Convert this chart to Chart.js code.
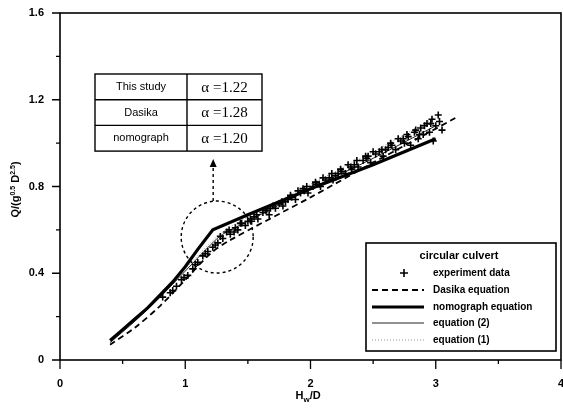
<!DOCTYPE html>
<html>
<head>
<meta charset="utf-8">
<script src="https://cdn.jsdelivr.net/npm/chart.js@4/dist/chart.umd.min.js"></script>
<style>
  html, body { margin: 0; padding: 0; background: #fff; }
  #wrap { width: 563px; height: 410px; position: relative; }
</style>
</head>
<body>
<div id="wrap"><canvas id="chart"></canvas></div>
<script>
/* ===== DATA ===== */
const xTicks = [0, 1, 2, 3, 4];
const yTicks = [0, 0.4, 0.8, 1.2, 1.6];

const expX = [0.82,0.88,0.93,0.97,1.02,1.06,1.10,1.14,1.18,1.22,1.26,1.30,1.33,1.36,1.40,1.42,1.45,1.48,1.52,1.55,1.58,1.62,1.65,1.68,1.72,1.75,1.78,1.82,1.85,1.88,1.92,1.95,1.98,2.02,2.05,2.08,2.12,2.15,2.18,2.22,2.25,2.28,2.32,2.35,2.38,2.42,2.45,2.48,2.52,2.55,2.58,2.62,2.65,2.68,2.72,2.75,2.78,2.80,2.83,2.86,2.88,2.90,2.93,2.95,2.97,3.00,3.02,2.98,3.05,
  1.28,1.35,1.44,1.50,1.57,1.64,1.70,1.77,1.84,1.90,1.97,2.04,2.10,2.17,2.24,2.30,2.37,2.44,2.50,2.57,2.64,2.70,2.77,2.84,2.91,2.96,3.03,2.87,2.74,2.60,2.46,2.33,2.20,2.07,1.94,1.80,1.67,1.53,1.39,1.24,1.16,1.08,0.99,0.90];
const expY = [0.29,0.31,0.34,0.37,0.39,0.42,0.45,0.48,0.50,0.52,0.54,0.56,0.59,0.58,0.61,0.60,0.63,0.62,0.65,0.66,0.65,0.68,0.69,0.70,0.70,0.72,0.71,0.74,0.75,0.74,0.77,0.78,0.77,0.80,0.81,0.80,0.83,0.84,0.83,0.86,0.87,0.86,0.89,0.90,0.89,0.92,0.93,0.91,0.95,0.96,0.94,0.98,0.99,0.97,1.01,1.00,1.03,0.99,1.05,1.02,1.07,1.04,1.09,1.05,1.11,1.08,1.13,1.01,1.06,
  0.57,0.60,0.63,0.64,0.67,0.69,0.71,0.73,0.76,0.78,0.80,0.82,0.84,0.86,0.88,0.90,0.92,0.94,0.96,0.97,1.00,1.02,1.04,1.06,1.08,1.09,1.10,1.04,1.02,0.97,0.94,0.88,0.85,0.81,0.79,0.73,0.67,0.64,0.59,0.53,0.49,0.44,0.38,0.32];

const dasikaX = [0.4, 0.6, 0.8, 1.0, 1.2, 1.35, 2.0, 2.5, 3.17];
const dasikaY = [0.07, 0.15, 0.25, 0.37, 0.49, 0.55, 0.75, 0.91, 1.12];

const nomoX = [0.4, 0.5, 0.6, 0.7, 0.8, 0.9, 1.0, 1.1, 1.22, 1.5, 2.0, 2.5, 3.0];
const nomoY = [0.09, 0.14, 0.19, 0.24, 0.30, 0.36, 0.43, 0.51, 0.60, 0.67, 0.79, 0.90, 1.02];

const eq2X = [0.4, 0.6, 0.8, 1.0, 1.2, 1.3, 1.5, 2.0, 2.5, 3.0];
const eq2Y = [0.08, 0.18, 0.29, 0.41, 0.53, 0.58, 0.64, 0.79, 0.93, 1.08];

const eq1X = [0.4, 0.6, 0.8, 1.0, 1.2, 1.3, 1.5, 2.0, 2.5, 3.0];
const eq1Y = [0.085, 0.19, 0.30, 0.42, 0.54, 0.59, 0.66, 0.81, 0.96, 1.12];

const tableRows = [['This study', 'α =1.22'], ['Dasika', 'α =1.28'], ['nomograph', 'α =1.20']];
const legendTitle = 'circular culvert';
const legendLabels = ['experiment data', 'Dasika equation', 'nomograph equation', 'equation (2)', 'equation (1)'];

const pts = (xs, ys) => xs.map((x, i) => ({ x: x, y: ys[i] }));
const FONT = 'Arial, "Liberation Sans", sans-serif';

/* ===== PLUGIN : cadre, ticks, titres, tableau, légende ===== */
const decor = {
  id: 'decor',
  afterDraw(chart) {
    const ctx = chart.ctx, a = chart.chartArea;
    const sx = chart.scales.x, sy = chart.scales.y;
    ctx.save();
    ctx.strokeStyle = '#000';
    ctx.lineWidth = 1.6;
    ctx.strokeRect(a.left, a.top, a.right - a.left, a.bottom - a.top);

    // ticks (majeurs + mineurs)
    ctx.lineWidth = 1.3;
    ctx.beginPath();
    for (let v = 0; v <= 4.001; v += 0.5) {
      const px = sx.getPixelForValue(v);
      const len = Math.abs(v - Math.round(v)) < 0.01 ? 9 : 4;
      ctx.moveTo(px, a.bottom); ctx.lineTo(px, a.bottom + len);
    }
    for (let v = 0; v <= 1.601; v += 0.2) {
      const py = sy.getPixelForValue(v);
      const major = Math.abs(v / 0.4 - Math.round(v / 0.4)) < 0.01;
      ctx.moveTo(a.left, py); ctx.lineTo(a.left - (major ? 8 : 4), py);
    }
    ctx.stroke();

    // titre axe x : H_w/D
    ctx.fillStyle = '#000';
    ctx.font = 'bold 11px ' + FONT;
    ctx.textBaseline = 'alphabetic';
    const tx = (a.left + a.right) / 2 - 15, ty = 399;
    ctx.textAlign = 'left';
    ctx.fillText('H', tx, ty);
    let w = ctx.measureText('H').width;
    ctx.font = 'bold 8px ' + FONT;
    ctx.fillText('w', tx + w, ty + 3);
    w += ctx.measureText('w').width;
    ctx.font = 'bold 11px ' + FONT;
    ctx.fillText('/D', tx + w, ty);

    // titre axe y : Q/(g^0.5 D^2.5)
    ctx.save();
    ctx.translate(15, (a.top + a.bottom) / 2 + 3);
    ctx.rotate(-Math.PI / 2);
    const parts = [['Q/(g', 0, 11], ['0.5', -4, 7], [' D', 0, 11], ['2.5', -4, 7], [')', 0, 11]];
    let total = 0;
    parts.forEach(p => { ctx.font = 'bold ' + p[2] + 'px ' + FONT; total += ctx.measureText(p[0]).width; });
    let cx = -total / 2;
    parts.forEach(p => {
      ctx.font = 'bold ' + p[2] + 'px ' + FONT;
      ctx.fillText(p[0], cx, 4 + p[1]);
      cx += ctx.measureText(p[0]).width;
    });
    ctx.restore();

    // cercle pointillé + flèche
    const ccx = sx.getPixelForValue(1.255), ccy = sy.getPixelForValue(0.567);
    ctx.setLineDash([3, 3]);
    ctx.lineWidth = 1.4;
    ctx.beginPath();
    ctx.arc(ccx, ccy, 36, 0, Math.PI * 2);
    ctx.stroke();
    const axx = ccx - 4;
    ctx.beginPath();
    ctx.moveTo(axx, ccy - 36);
    ctx.lineTo(axx, 167);
    ctx.stroke();
    ctx.setLineDash([]);
    ctx.beginPath();
    ctx.moveTo(axx, 159); ctx.lineTo(axx - 3.5, 167); ctx.lineTo(axx + 3.5, 167); ctx.closePath();
    ctx.fill();

    // tableau
    const tl = 95, tt = 74, c1 = 187, tr = 262, rh = 25.7;
    ctx.lineWidth = 1.4;
    ctx.strokeRect(tl, tt, tr - tl, rh * 3);
    ctx.beginPath();
    ctx.moveTo(c1, tt); ctx.lineTo(c1, tt + rh * 3);
    ctx.moveTo(tl, tt + rh); ctx.lineTo(tr, tt + rh);
    ctx.moveTo(tl, tt + rh * 2); ctx.lineTo(tr, tt + rh * 2);
    ctx.stroke();
    ctx.textAlign = 'center';
    ctx.textBaseline = 'middle';
    tableRows.forEach((r, i) => {
      const my = tt + rh * i + rh / 2;
      ctx.font = '11px ' + FONT;
      ctx.fillText(r[0], (tl + c1) / 2, my);
      ctx.font = '15px "Liberation Serif", "Times New Roman", serif';
      ctx.fillText(r[1], (c1 + tr) / 2, my + 1);
    });

    // légende
    const ll = 366, lt = 243, lr = 556, lb = 351;
    ctx.fillStyle = '#fff';
    ctx.fillRect(ll, lt, lr - ll, lb - lt);
    ctx.fillStyle = '#000';
    ctx.lineWidth = 1.6;
    ctx.strokeRect(ll, lt, lr - ll, lb - lt);
    ctx.font = 'bold 11px ' + FONT;
    ctx.textAlign = 'center';
    ctx.fillText(legendTitle, (ll + lr) / 2 - 2, 256);
    ctx.font = 'bold 10px ' + FONT;
    ctx.textAlign = 'left';
    const rowsY = [273, 290, 307, 323, 340];
    const ds = chart.data.datasets;
    ds.forEach((d, i) => {
      const y = rowsY[i];
      ctx.fillStyle = '#000';
      ctx.fillText(legendLabels[i], 433, y);
      if (i === 0) {
        ctx.lineWidth = 1.6;
        ctx.strokeStyle = '#000';
        ctx.beginPath();
        ctx.moveTo(404 - 4, y); ctx.lineTo(404 + 4, y);
        ctx.moveTo(404, y - 4); ctx.lineTo(404, y + 4);
        ctx.stroke();
      } else {
        ctx.lineWidth = d.borderWidth;
        ctx.strokeStyle = d.borderColor;
        ctx.setLineDash(d.borderDash || []);
        ctx.beginPath();
        ctx.moveTo(372, y); ctx.lineTo(424, y);
        ctx.stroke();
        ctx.setLineDash([]);
      }
    });
    ctx.restore();
  }
};

/* ===== CHART ===== */
new Chart(document.getElementById('chart'), {
  type: 'scatter',
  data: {
    datasets: [
      { label: legendLabels[0], data: pts(expX, expY), pointStyle: 'cross', pointRadius: 3.5,
        borderColor: '#000', borderWidth: 1.6, showLine: false },
      { label: legendLabels[1], data: pts(dasikaX, dasikaY), showLine: true, pointRadius: 0,
        borderColor: '#000', borderWidth: 1.8, borderDash: [6, 4], tension: 0.3 },
      { label: legendLabels[2], data: pts(nomoX, nomoY), showLine: true, pointRadius: 0,
        borderColor: '#000', borderWidth: 3.2, tension: 0 },
      { label: legendLabels[3], data: pts(eq2X, eq2Y), showLine: true, pointRadius: 0,
        borderColor: '#222', borderWidth: 1, tension: 0.3 },
      { label: legendLabels[4], data: pts(eq1X, eq1Y), showLine: true, pointRadius: 0,
        borderColor: '#777', borderWidth: 0.8, borderDash: [1, 2], tension: 0.3 }
    ]
  },
  options: {
    responsive: true, maintainAspectRatio: false, animation: false,
    layout: { autoPadding: false, padding: { top: 13, right: 2, left: 0, bottom: 0 } },
    plugins: { legend: { display: false }, tooltip: { enabled: false } },
    scales: {
      x: {
        type: 'linear', min: 0, max: 4,
        afterFit: s => { s.height = 50; s.paddingLeft = 0; s.paddingRight = 0; },
        afterBuildTicks: s => { s.ticks = xTicks.map(v => ({ value: v })); },
        grid: { display: false }, border: { display: false },
        ticks: { padding: 9, color: '#000', maxRotation: 0, font: { family: FONT, size: 11, weight: 'bold' } }
      },
      y: {
        type: 'linear', min: 0, max: 1.6,
        afterFit: s => { s.width = 60; s.paddingTop = 0; s.paddingBottom = 0; },
        afterBuildTicks: s => { s.ticks = yTicks.map(v => ({ value: v })); },
        grid: { display: false }, border: { display: false },
        ticks: { padding: 8, color: '#000', font: { family: FONT, size: 11, weight: 'bold' },
          callback: v => String(v) }
      }
    }
  },
  plugins: [decor]
});
</script>
</body>
</html>
